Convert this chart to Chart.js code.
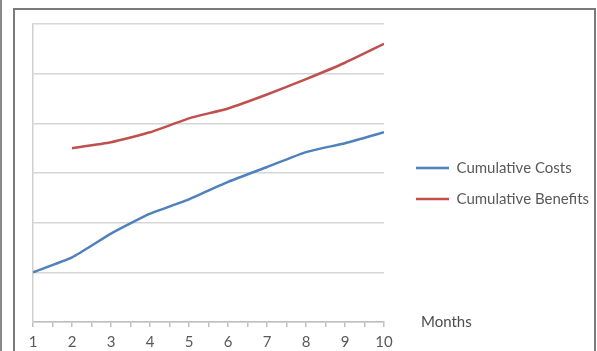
<!DOCTYPE html>
<html>
<head>
<meta charset="utf-8">
<script src="https://cdn.jsdelivr.net/npm/chart.js@4/dist/chart.umd.min.js"></script>
<style>
  html, body { margin: 0; padding: 0; background: #fff; }
  #wrap { position: relative; width: 597px; height: 351px; overflow: hidden; }
  #leftbar { position: absolute; left: 0; top: 0; width: 2px; height: 351px; background: #8a8a8a; }
  #frame { position: absolute; left: 13px; top: 8px; width: 583px; height: 400px; border: 2px solid #7a7a7a; box-sizing: border-box; }
  canvas { position: absolute; left: 0; top: 0; }
</style>
</head>
<body>
<div id="wrap">
  <div id="leftbar"></div>
  <div id="frame"></div>
  <canvas id="c" width="597" height="351"></canvas>
</div>
<script>
// ---- data ----
const months = [1, 2, 3, 4, 5, 6, 7, 8, 9, 10];
const cumulativeCosts = [1.0, 1.3, 1.78, 2.18, 2.47, 2.82, 3.12, 3.42, 3.6, 3.82];
const cumulativeBenefits = [null, 3.5, 3.62, 3.82, 4.1, 4.3, 4.58, 4.89, 5.22, 5.6];
const seriesNames = ['Cumulative Costs', 'Cumulative Benefits'];
const xAxisTitle = 'Months';

const FONT = 'Lato';
const FS = 15;
const TXT = '#595959';
const LEG_PAD = 16;
const BOX_W = 33;

const toPoints = (vals) => months.map((m, i) => ({ x: m, y: vals[i] }));

// legend placed right of the plot area, like the original
const legendPlace = {
  id: 'legendPlace',
  afterLayout(chart) {
    const lg = chart.legend;
    if (!lg) return;
    lg.left = chart.chartArea.right + 32 - LEG_PAD;
    lg.right = chart.width;
    lg.width = lg.right - lg.left;
    const dy = -4;
    lg.top += dy; lg.bottom += dy;
  }
};

const axisTitle = {
  id: 'axisTitle',
  afterDraw(chart) {
    const ctx = chart.ctx;
    const xs = chart.scales.x;
    ctx.save();
    ctx.font = FS + 'px ' + FONT;
    ctx.fillStyle = '#4d4d4d';
    ctx.textBaseline = 'middle';
    ctx.textAlign = 'left';
    ctx.fillText(xAxisTitle, chart.chartArea.right + 37, xs.top);
    ctx.restore();
  }
};

new Chart(document.getElementById('c'), {
  type: 'line',
  data: {
    datasets: [
      {
        label: seriesNames[0],
        data: toPoints(cumulativeCosts),
        borderColor: '#4f81bd',
        backgroundColor: '#4f81bd',
        borderWidth: 2.5,
        pointRadius: 0,
        pointStyle: 'line',
        tension: 0.15
      },
      {
        label: seriesNames[1],
        data: toPoints(cumulativeBenefits),
        borderColor: '#c0504d',
        backgroundColor: '#c0504d',
        borderWidth: 2.5,
        pointRadius: 0,
        pointStyle: 'line',
        tension: 0.15
      }
    ]
  },
  options: {
    responsive: false,
    animation: false,
    layout: { padding: { left: 33, top: 24, right: 96, bottom: 0 } },
    plugins: {
      legend: {
        position: 'right',
        labels: {
          usePointStyle: true,
          pointStyleWidth: BOX_W,
          boxWidth: BOX_W,
          padding: LEG_PAD,
          color: TXT,
          font: { family: FONT, size: FS }
        }
      },
      tooltip: { enabled: false }
    },
    scales: {
      x: {
        type: 'linear',
        min: 1,
        max: 10,
        afterFit: (scale) => { scale.height = 29; },
        border: { color: '#bfbfbf', width: 1.5 },
        grid: { drawOnChartArea: false, drawTicks: true, tickLength: 5, color: '#bfbfbf', lineWidth: 1.5 },
        ticks: {
          stepSize: 0.5,
          autoSkip: false,
          maxRotation: 0,
          padding: 8,
          color: TXT,
          font: { family: FONT, size: FS, lineHeight: 1 },
          callback: (v) => Number.isInteger(v) ? String(v) : ''
        }
      },
      y: {
        min: 0,
        max: 6,
        border: { color: '#d0d0d0', width: 1.5 },
        grid: { color: '#d6d6d6', lineWidth: 1.5, drawTicks: false },
        ticks: { display: false, stepSize: 1 }
      }
    }
  },
  plugins: [legendPlace, axisTitle]
});
</script>
</body>
</html>
